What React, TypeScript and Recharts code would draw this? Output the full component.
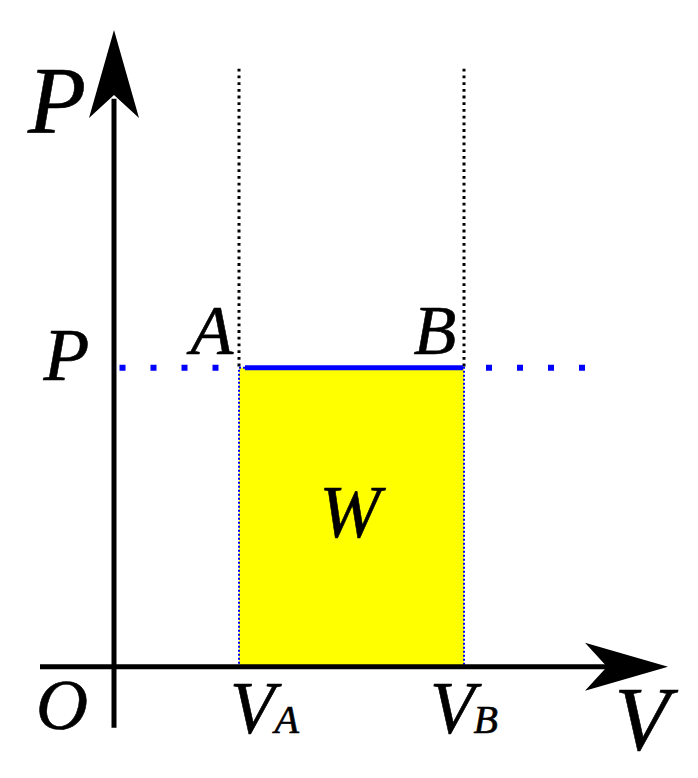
import React from 'react';
import {
  ComposedChart,
  XAxis,
  YAxis,
  Area,
  Line,
  ReferenceArea,
  ReferenceLine,
  ReferenceDot,
} from 'recharts';

// ---- data ----
const stateNames = ['A', 'B'];
const stateVolumes = [2.5, 7];
const pressureLevel = 5;
const processVolumes = [2.62, 6.98];
const guideTop = 10;
const isobarLeft = [0.11, 2.1];
const isobarRight = [7.44, 9.42];
const xAxisRange = [-1.48, 10.1];
const yAxisRange = [-1.02, 9.5];
const xArrowTip = 11.08;
const yArrowTip = 10.65;
const workLabel = 'W';
const originLabel = 'O';
const pressureLabel = 'P';
const volumeLabel = 'V';
const volumeSubs = ['A', 'B'];

const areaData = stateVolumes.map((v) => ({ v, p: pressureLevel }));
const processData = processVolumes.map((v) => ({ v, p: pressureLevel }));

const FONT = "'Liberation Serif'";

const textShape =
  (content: React.ReactNode, dx: number, dy: number, size: number, anchor: string = 'middle') =>
  (props: any) =>
    (
      <text
        x={props.cx + dx}
        y={props.cy + dy}
        style={{ fontFamily: FONT, fontStyle: 'italic', fontSize: size }}
        textAnchor={anchor}
        fill="#000"
        stroke="#000"
        strokeWidth={0.6}
      >
        {content}
      </text>
    );

const upArrow = (props: any) => {
  const { cx, cy } = props;
  return (
    <polygon
      points={`${cx},${cy} ${cx + 25},${cy + 88} ${cx},${cy + 65} ${cx - 25},${cy + 88}`}
      fill="#000"
    />
  );
};

const rightArrow = (props: any) => {
  const { cx, cy } = props;
  return (
    <polygon
      points={`${cx},${cy} ${cx - 83},${cy + 24} ${cx - 61},${cy} ${cx - 83},${cy - 24}`}
      fill="#000"
    />
  );
};

export default function App() {
  const [vA, vB] = stateVolumes;
  return (
    <div style={{ position: 'absolute', left: 0, top: 0 }}>
      <ComposedChart
        width={698}
        height={778}
        margin={{ top: 9, right: 9, bottom: 21.5, left: 14 }}
      >
        <XAxis type="number" dataKey="v" domain={[-2, 11.5]} hide allowDataOverflow />
        <YAxis type="number" dataKey="p" domain={[-1.5, 11]} hide allowDataOverflow />

        <Area
          data={areaData}
          dataKey="p"
          type="linear"
          baseValue={0}
          fill="#ffff00"
          fillOpacity={1}
          stroke="none"
          isAnimationActive={false}
        />
        <ReferenceArea
          x1={vA}
          x2={vB}
          y1={0}
          y2={pressureLevel}
          fill="none"
          fillOpacity={0}
          stroke="#0000ff"
          strokeWidth={2}
          strokeDasharray="2 2"
          ifOverflow="visible"
        />

        {/* vertical guides */}
        {stateVolumes.map((v, i) => (
          <ReferenceLine
            key={`g${i}`}
            segment={[
              { x: v, y: guideTop },
              { x: v, y: pressureLevel },
            ]}
            stroke="#000"
            strokeWidth={3}
            strokeDasharray="2.8 3.9"
            ifOverflow="visible"
          />
        ))}

        {/* isobar dotted */}
        <ReferenceLine
          segment={[
            { x: isobarLeft[0], y: pressureLevel },
            { x: isobarLeft[1], y: pressureLevel },
          ]}
          stroke="#0000ff"
          strokeWidth={6}
          strokeDasharray="6 25"
          ifOverflow="visible"
        />
        <ReferenceLine
          segment={[
            { x: isobarRight[0], y: pressureLevel },
            { x: isobarRight[1], y: pressureLevel },
          ]}
          stroke="#0000ff"
          strokeWidth={6}
          strokeDasharray="6 25"
          ifOverflow="visible"
        />

        <Line
          data={processData}
          dataKey="p"
          type="linear"
          stroke="#0000ff"
          strokeWidth={5}
          dot={false}
          activeDot={false}
          isAnimationActive={false}
        />

        {/* axes */}
        <ReferenceLine
          segment={[
            { x: xAxisRange[0], y: 0 },
            { x: xAxisRange[1], y: 0 },
          ]}
          stroke="#000"
          strokeWidth={5}
          ifOverflow="visible"
        />
        <ReferenceLine
          segment={[
            { x: 0, y: yAxisRange[0] },
            { x: 0, y: yAxisRange[1] },
          ]}
          stroke="#000"
          strokeWidth={5}
          ifOverflow="visible"
        />
        <ReferenceDot x={0} y={yArrowTip} r={1} shape={upArrow} ifOverflow="visible" />
        <ReferenceDot x={xArrowTip} y={0} r={1} shape={rightArrow} ifOverflow="visible" />

        {/* labels */}
        <ReferenceDot
          x={0}
          y={yArrowTip}
          r={1}
          shape={textShape(pressureLabel, -57, 103, 95)}
          ifOverflow="visible"
        />
        <ReferenceDot
          x={xArrowTip}
          y={0}
          r={1}
          shape={textShape(volumeLabel, -26, 83, 90)}
          ifOverflow="visible"
        />
        <ReferenceDot
          x={0}
          y={pressureLevel}
          r={1}
          shape={textShape(pressureLabel, -47.5, 12, 75)}
          ifOverflow="visible"
        />
        <ReferenceDot
          x={0}
          y={0}
          r={1}
          shape={textShape(originLabel, -52, 62, 72)}
          ifOverflow="visible"
        />
        {stateVolumes.map((v, i) => (
          <ReferenceDot
            key={`s${i}`}
            x={v}
            y={pressureLevel}
            r={1}
            shape={textShape(stateNames[i], i === 0 ? -27 : -29, -14, 70)}
            ifOverflow="visible"
          />
        ))}
        {stateVolumes.map((v, i) => (
          <ReferenceDot
            key={`v${i}`}
            x={v}
            y={0}
            r={1}
            shape={textShape(
              <>
                <tspan style={{ fontSize: 73 }}>{volumeLabel}</tspan>
                <tspan style={{ fontSize: 40 }} dx={i === 0 ? 0 : -1}>
                  {volumeSubs[i]}
                </tspan>
              </>,
              i === 0 ? -9 : -34,
              66,
              73,
              'start'
            )}
            ifOverflow="visible"
          />
        ))}
        <ReferenceDot
          x={(vA + vB) / 2}
          y={pressureLevel / 2}
          r={1}
          shape={textShape(workLabel, -1.5, 19.5, 73)}
          ifOverflow="visible"
        />
      </ComposedChart>
    </div>
  );
}
